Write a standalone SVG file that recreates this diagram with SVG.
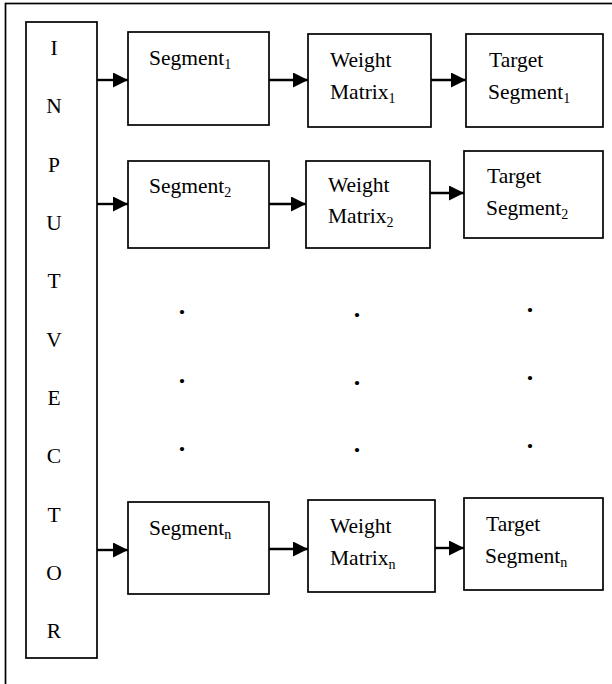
<svg xmlns="http://www.w3.org/2000/svg" width="612" height="684" viewBox="0 0 612 684">
  <style>
    .box { fill: #ffffff; stroke: #000000; stroke-width: 1.7; }
    .frame { fill: none; stroke: #000000; stroke-width: 1.7; }
    .lbl { font-family: "Liberation Serif", "Times New Roman", serif; font-size: 21.5px; fill: #000000; }
    .sub { font-size: 14px; }
    .col { font-family: "Liberation Serif", "Times New Roman", serif; font-size: 21.5px; fill: #000000; text-anchor: middle; }
    .dot { font-family: "Liberation Serif", "Times New Roman", serif; font-size: 26px; font-weight: bold; fill: #000000; text-anchor: middle; }
    .wire { stroke: #000000; stroke-width: 2.4; fill: none; marker-end: url(#head); }
  </style>
  <defs>
    <marker id="head" viewBox="0 0 10 10" refX="10" refY="5" markerUnits="userSpaceOnUse" markerWidth="15" markerHeight="15" orient="auto">
      <path d="M0,0 L10,5 L0,10 Z" fill="#000000"/>
    </marker>
  </defs>

  <rect width="612" height="684" fill="#ffffff"/>
  <!-- outer frame, open past the right and bottom edges -->
  <rect class="frame" x="5.5" y="3.5" width="620" height="700"/>

  <g id="input-vector">
    <rect class="box" x="26" y="22" width="71" height="636"/>
    <text class="col" x="54" y="55">I</text>
    <text class="col" x="54" y="113">N</text>
    <text class="col" x="54" y="172">P</text>
    <text class="col" x="54" y="230">U</text>
    <text class="col" x="54" y="288">T</text>
    <text class="col" x="54" y="347">V</text>
    <text class="col" x="54" y="405">E</text>
    <text class="col" x="54" y="463">C</text>
    <text class="col" x="54" y="522">T</text>
    <text class="col" x="54" y="580">O</text>
    <text class="col" x="54" y="638">R</text>
  </g>

  <!-- row 1 -->
  <g id="segment-1">
    <rect class="box" x="128" y="32" width="141" height="93"/>
    <text class="lbl" x="149" y="65">Segment<tspan class="sub" dy="4">1</tspan></text>
  </g>
  <g id="weight-1">
    <rect class="box" x="308" y="34" width="123" height="93"/>
    <text class="lbl" x="330" y="67">Weight</text>
    <text class="lbl" x="330" y="99">Matrix<tspan class="sub" dy="4">1</tspan></text>
  </g>
  <g id="target-1">
    <rect class="box" x="466" y="34" width="137" height="93"/>
    <text class="lbl" x="489" y="67">Target</text>
    <text class="lbl" x="488" y="99">Segment<tspan class="sub" dy="4">1</tspan></text>
  </g>

  <!-- row 2 -->
  <g id="segment-2">
    <rect class="box" x="128" y="161" width="141" height="87"/>
    <text class="lbl" x="149" y="193">Segment<tspan class="sub" dy="4">2</tspan></text>
  </g>
  <g id="weight-2">
    <rect class="box" x="306" y="161" width="124" height="87"/>
    <text class="lbl" x="328" y="192">Weight</text>
    <text class="lbl" x="328" y="223">Matrix<tspan class="sub" dy="4">2</tspan></text>
  </g>
  <g id="target-2">
    <rect class="box" x="464" y="151" width="139" height="87"/>
    <text class="lbl" x="487" y="183">Target</text>
    <text class="lbl" x="486" y="215">Segment<tspan class="sub" dy="4">2</tspan></text>
  </g>

  <!-- row n -->
  <g id="segment-n">
    <rect class="box" x="128" y="502" width="141" height="92"/>
    <text class="lbl" x="149" y="535">Segment<tspan class="sub" dy="4">n</tspan></text>
  </g>
  <g id="weight-n">
    <rect class="box" x="308" y="500" width="127" height="92"/>
    <text class="lbl" x="330" y="533">Weight</text>
    <text class="lbl" x="330" y="565">Matrix<tspan class="sub" dy="4">n</tspan></text>
  </g>
  <g id="target-n">
    <rect class="box" x="464" y="498" width="139" height="92"/>
    <text class="lbl" x="486" y="531">Target</text>
    <text class="lbl" x="485" y="563">Segment<tspan class="sub" dy="4">n</tspan></text>
  </g>

  <!-- ellipsis dots between row 2 and row n -->
  <g id="ellipsis">
    <text class="dot" x="182" y="314">.</text>
    <text class="dot" x="182" y="383">.</text>
    <text class="dot" x="182" y="451">.</text>
    <text class="dot" x="357" y="317">.</text>
    <text class="dot" x="357" y="385">.</text>
    <text class="dot" x="357" y="452">.</text>
    <text class="dot" x="530" y="312">.</text>
    <text class="dot" x="530" y="380">.</text>
    <text class="dot" x="530" y="448">.</text>
  </g>

  <g id="connectors">
    <line class="wire" x1="97" y1="80" x2="128" y2="80"/>
    <line class="wire" x1="269" y1="80" x2="308" y2="80"/>
    <line class="wire" x1="431" y1="80" x2="466" y2="80"/>
    <line class="wire" x1="97" y1="204" x2="128" y2="204"/>
    <line class="wire" x1="269" y1="204" x2="306" y2="204"/>
    <line class="wire" x1="430" y1="193" x2="464" y2="193"/>
    <line class="wire" x1="97" y1="550" x2="128" y2="550"/>
    <line class="wire" x1="269" y1="549" x2="308" y2="549"/>
    <line class="wire" x1="435" y1="548" x2="464" y2="548"/>
  </g>
</svg>
